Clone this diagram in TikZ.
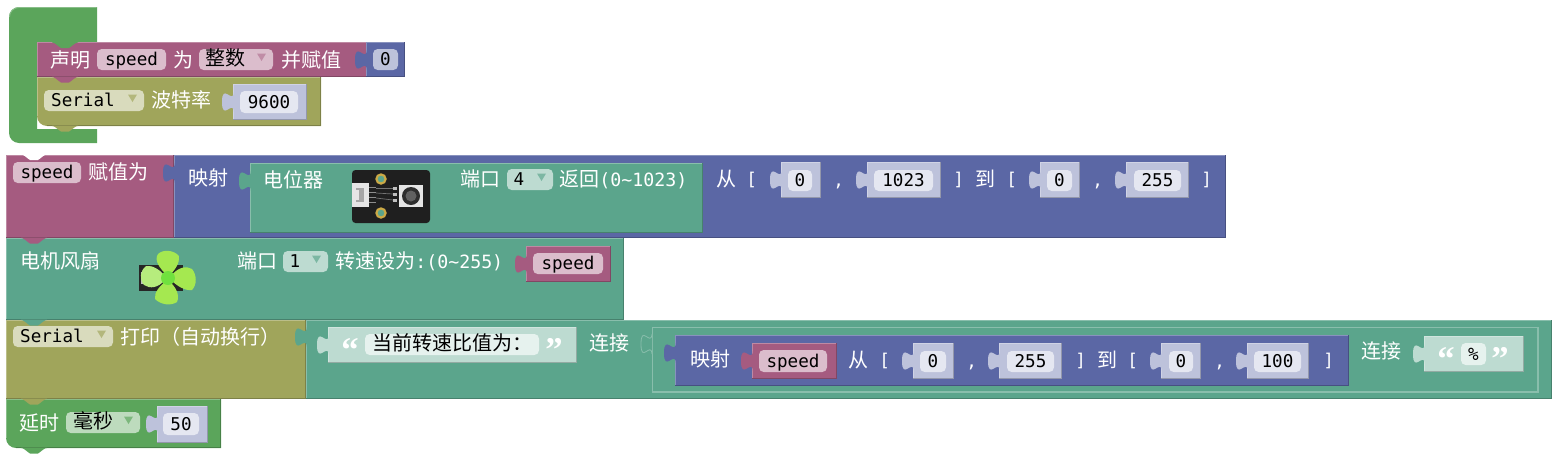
\documentclass[tikz,border=0pt]{standalone}
\usepackage{fontspec}
\setmainfont{Noto Sans CJK SC}
\newfontfamily\cjkf{Noto Sans CJK SC}
\newfontfamily\monofam{DejaVu Sans Mono}
\newfontfamily\quotef{Liberation Serif}
\newcommand{\monof}{\monofam\fontsize{13.2}{15}\selectfont}
\newcommand{\monog}{\monofam\fontsize{13.7}{15}\selectfont}
\newcommand{\fcjk}{\cjkf\fontsize{15}{16}\selectfont}
\definecolor{cgreen}{HTML}{5BA55B}
\definecolor{cpurple}{HTML}{A55B80}
\definecolor{cblue}{HTML}{5B67A5}
\definecolor{colive}{HTML}{A0A55B}
\definecolor{cteal}{HTML}{5BA58C}
\definecolor{lblue}{HTML}{BDC2DB}
\definecolor{fblue}{HTML}{E5E7F1}
\definecolor{lteal}{HTML}{BDDBD1}
\definecolor{fteal}{HTML}{E6F2EE}
\definecolor{lpurple}{HTML}{DBBDCC}
\definecolor{lolive}{HTML}{D9DBBD}
\definecolor{lgreen}{HTML}{BDDBBD}
\definecolor{bladeg}{RGB}{165,232,80}
\definecolor{bladel}{RGB}{182,236,125}
\definecolor{hubg}{RGB}{112,225,62}
\definecolor{goldc}{RGB}{205,170,70}
\newcounter{nn}
\tikzset{
  lab/.style={anchor=mid west,inner sep=0pt,text=white,font=\fcjk},
  fldtext/.style={anchor=mid,inner sep=0pt,text=black,font=\monof},
  fldbox/.style={rounded corners=3.5pt},
  qmark/.style={anchor=base,inner sep=0pt,text=white,font=\quotef\bfseries\fontsize{26}{26}\selectfont},
}
% rectangular block with highlight and shade
\newcommand{\blk}[5]{%
  \fill[#5] (#1,#2) rectangle (#3,#4);
  \draw[#5!72!white,line width=.8pt] (#1+.5,#4) -- (#1+.5,#2+.5) -- (#3,#2+.5);
  \draw[#5!78!black,line width=.8pt] (#3-.5,#2) -- (#3-.5,#4-.5) -- (#1,#4-.5);
}
% value tab, right end at x, top at y
\newcommand{\vtab}[3]{%
  \begin{scope}[shift={(#1,#2)}]
  \fill[#3] (1,0) .. controls (0,13) and (-11,-10) .. (-11,10) .. controls (-11,30) and (0,7) .. (1,20) -- cycle;
  \end{scope}
}
% value block with tab
\newcommand{\vblk}[5]{\blk{#1}{#2}{#3}{#4}{#5}\vtab{#1}{#2+8}{#5}}
% statement tab and notch
\newcommand{\stab}[3]{%
  \begin{scope}[shift={(#1,#2)}]
  \fill[#3] (15,-.5) -- (15,0) .. controls (18,0) and (20,3) .. (24,5.5) -- (32,5.5) .. controls (36,3) and (38,0) .. (41,0) -- (41,-.5) -- cycle;
  \end{scope}
}
\newcommand{\tx}[3]{\stepcounter{nn}\node[lab] (t\thenn) at (#1,#2+3.5) {#3};}
\newcommand{\mtx}[3]{\stepcounter{nn}\node[lab,font=\monof] (t\thenn) at (#1,#2+2.5) {#3};}
% field: x1 y1 x2 y2 colour text
\newcommand{\fld}[6]{%
  \stepcounter{nn}
  \fill[#5,fldbox] (#1,#2) rectangle (#3,#4);
  \node[fldtext] (t\thenn) at ({(#1+#3)/2},{(#2+#4)/2+2.5}) {#6};
}
% dropdown: x1 y1 x2 y2 colour arrowcolour textcentrex text
\newcommand{\dd}[8]{%
  \stepcounter{nn}
  \fill[#5,fldbox] (#1,#2) rectangle (#3,#4);
  \node[fldtext] (t\thenn) at (#7,{(#2+#4)/2+2.5}) {#8};
  \fill[#6] (#3-16,{(#2+#4)/2-6}) -- (#3-7,{(#2+#4)/2-6}) -- (#3-11.5,{(#2+#4)/2+1.5}) -- cycle;
}
\newcommand{\qL}[2]{\stepcounter{nn}\node[qmark] (t\thenn) at (#1,#2) {“};}
\newcommand{\qR}[2]{\stepcounter{nn}\node[qmark] (t\thenn) at (#1,#2) {”};}
\begin{document}
\begin{tikzpicture}[x=.75pt,y=-.75pt]
\useasboundingbox (0,0) rectangle (1559,461);
% ---------- init stack
\fill[cgreen] (9,17) arc[start angle=180,end angle=270,radius=10] -- (97,7) -- (97,42) -- (37,42) -- (37,129) -- (97,129) -- (97,143) -- (19,143) arc[start angle=90,end angle=180,radius=10] -- cycle;
\draw[cgreen!72!white,line width=.6pt] (9.5,17) arc[start angle=180,end angle=270,radius=9.5] -- (96.5,7.5);
\blk{37}{42}{367}{77}{cpurple}
\stab{37}{42.5}{cgreen}
\vblk{366}{42}{405}{77}{cblue}
\fld{373}{49}{398}{70}{lblue}{0}
\fill[colive] (37,77) -- (321,77) -- (321,126) -- (47,126) arc[start angle=90,end angle=180,radius=10] -- cycle;
\draw[colive!72!white,line width=.6pt] (37.5,116) -- (37.5,77.5) -- (321,77.5);
\draw[colive!78!black,line width=.8pt] (320.5,77) -- (320.5,125.5) -- (47,125.5);
\stab{37}{77}{cpurple}
\stab{37}{126}{colive}
\tx{50}{60}{声明}
\fld{97}{49}{166}{70}{lpurple}{speed}
\tx{173}{60}{为}
\dd{199}{49}{273}{70}{lpurple}{cpurple!70!white}{225}{\fcjk 整数}
\tx{281}{60}{并赋值}
\dd{44}{90}{144}{111}{lolive}{colive!80!white}{83}{Serial}
\tx{151}{100}{波特率}
\vblk{233}{84}{307}{120}{lblue}
\fld{240}{91}{298}{113}{fblue}{9600}
% ---------- main stack
\blk{6}{155}{174}{238}{cpurple}
\stab{6}{154.5}{white}
\blk{174}{155}{1226}{238}{cblue}
\vtab{174}{163}{cblue}
\blk{250}{163}{703}{233}{cteal}
\vtab{250}{171}{cteal}
\fld{13}{162}{81}{183}{lpurple}{speed}
\tx{88}{172}{赋值为}
\tx{188}{178}{映射}
\tx{263}{180}{电位器}
% potentiometer picture
\fill[black!88,rounded corners=2.6pt] (352,170) rectangle (430,223);
\fill[white!90!black] (352,183) rectangle (369,207);
\fill[black!35] (356,188) rectangle (364,202);
\fill[white!90!black] (352,190) rectangle (359,200);
\foreach \yy in {188,193,198,203}{\fill[black!45] (369,\yy-1) rectangle (376,\yy);}
\draw[black!55,line width=.5pt] (376,188) -- (393,188);
\draw[black!55,line width=.5pt] (376,193) -- (393,194);
\draw[black!55,line width=.5pt] (376,198) -- (393,200);
\foreach \yy in {187,193,199}{\fill[black!25] (393,\yy) rectangle (397,\yy+3);}
\fill[cteal,draw=goldc,line width=1.6pt] (381,179) circle[radius=4.6];
\fill[cteal,draw=goldc,line width=1.6pt] (381,213) circle[radius=4.6];
\fill[white!90!black] (399,185) rectangle (423,207);
\fill[black!82] (411,196) circle[radius=9];
\fill[black!62] (411,196) circle[radius=5.5];
\tx{460}{179}{端口}
\dd{507}{169}{553}{190}{lteal}{cteal!80!white}{519}{4}
\stepcounter{nn}\node[lab] (t\thenn) at (559,183) {返回\monog(0\textasciitilde1023)};
\tx{716}{179}{从}
\mtx{746}{179}{[}
\vblk{781}{162}{821}{198}{lblue}
\fld{788}{170}{812}{191}{fblue}{0}
\mtx{833}{180}{,}
\vblk{867}{162}{941}{198}{lblue}
\fld{874}{170}{933}{191}{fblue}{1023}
\mtx{953}{179}{]}
\tx{975}{179}{到}
\mtx{1006}{179}{[}
\vblk{1040}{162}{1080}{198}{lblue}
\fld{1047}{170}{1072}{191}{fblue}{0}
\mtx{1092}{180}{,}
\vblk{1126}{162}{1189}{198}{lblue}
\fld{1134}{170}{1181}{191}{fblue}{255}
\mtx{1201}{179}{]}
% fan block
\blk{6}{238}{624}{320}{cteal}
\stab{6}{238}{cpurple}
\tx{20}{261}{电机风扇}
\fill[black!85] (139,265) rectangle (183,291);
\fill[white!75!black] (141,272) rectangle (158,284);
\begin{scope}[shift={(168,278)}]
\fill[bladeg] (-1,-3) .. controls (-9,-10) and (-14,-18) .. (-10,-24) .. controls (-5,-29) and (6,-28) .. (11,-22) .. controls (12,-15) and (7,-8) .. (1,-2) -- cycle;
\fill[bladeg] (3,-2) .. controls (9,-10) and (18,-13) .. (24,-9) .. controls (29,-3) and (29,7) .. (24,12) .. controls (17,13) and (9,8) .. (3,2) -- cycle;
\fill[bladeg] (1,3) .. controls (8,9) and (12,17) .. (9,24) .. controls (3,28) and (-7,27) .. (-13,21) .. controls (-14,14) and (-8,8) .. (-2,3) -- cycle;
\fill[bladel] (-3,2) .. controls (-10,10) and (-18,11) .. (-24,7) .. controls (-29,1) and (-28,-7) .. (-22,-12) .. controls (-15,-13) and (-8,-8) .. (-3,-2) -- cycle;
\fill[hubg] (0,0) circle[radius=7];
\end{scope}
\tx{237}{261}{端口}
\dd{283}{251}{328}{272}{lteal}{cteal!80!white}{295}{1}
\stepcounter{nn}\node[lab] (t\thenn) at (335,264.5) {转速设为\monog:(0\textasciitilde255)};
\vblk{526}{246}{611}{282}{cpurple}
\fld{533}{253}{603}{274}{lpurple}{speed}
% serial print
\blk{6}{320}{306}{399}{colive}
\stab{6}{320}{cteal}
\blk{306}{320}{1552}{399}{cteal}
\vtab{306}{327}{cteal}
\dd{13}{326}{113}{347}{lolive}{colive!80!white}{52}{Serial}
\tx{120}{337}{打印（自动换行）}
\vblk{328}{327}{577}{363}{lteal}
\qL{350}{361}
\fld{365}{334}{539}{355}{fteal}{\fcjk 当前转速比值为：}
\qR{554}{361}
\tx{589}{343}{连接}
\fill[cteal,draw=cteal!72!white,line width=.8pt] (652.5,327.5) rectangle (1538,392);
\begin{scope}[shift={(652,334)}]
\fill[cteal,draw=cteal!72!white,line width=.6pt] (0,0) .. controls (-1,13) and (-11,-10) .. (-11,10) .. controls (-11,30) and (-1,7) .. (0,20);
\end{scope}
\blk{675}{335}{1349}{386}{cblue}
\vtab{675}{343}{cblue}
\tx{690}{359}{映射}
\vblk{752}{343}{837}{379}{cpurple}
\fld{759}{350}{827}{372}{lpurple}{speed}
\tx{848}{360}{从}
\mtx{879}{360}{[}
\vblk{913}{343}{954}{379}{lblue}
\fld{920}{351}{946}{372}{fblue}{0}
\mtx{966}{361}{,}
\vblk{999}{343}{1062}{379}{lblue}
\fld{1007}{351}{1054}{372}{fblue}{255}
\mtx{1075}{360}{]}
\tx{1097}{360}{到}
\mtx{1127}{360}{[}
\vblk{1161}{343}{1201}{379}{lblue}
\fld{1169}{351}{1193}{372}{fblue}{0}
\mtx{1214}{361}{,}
\vblk{1247}{343}{1309}{379}{lblue}
\fld{1254}{351}{1301}{372}{fblue}{100}
\mtx{1323}{360}{]}
\tx{1361}{351}{连接}
\vblk{1424}{336}{1524}{372}{lteal}
\qL{1446}{370}
\fld{1461}{343}{1486}{365}{fteal}{\%}
\qR{1500}{370}
% delay
\fill[cgreen] (6,399) -- (221,399) -- (221,448) -- (16,448) arc[start angle=90,end angle=180,radius=10] -- cycle;
\draw[cgreen!72!white,line width=.6pt] (6.5,438) -- (6.5,399.5) -- (221,399.5);
\draw[cgreen!78!black,line width=.8pt] (220.5,399) -- (220.5,447.5) -- (16,447.5);
\stab{6}{399}{colive}
\stab{6}{448}{cgreen}
\tx{19}{423}{延时}
\dd{66}{412}{140}{433}{lgreen}{cgreen!80!white}{93}{\fcjk 毫秒}
\vblk{157}{406}{208}{443}{lblue}
\fld{163}{413}{199}{435}{fblue}{50}
\end{tikzpicture}
\end{document}
